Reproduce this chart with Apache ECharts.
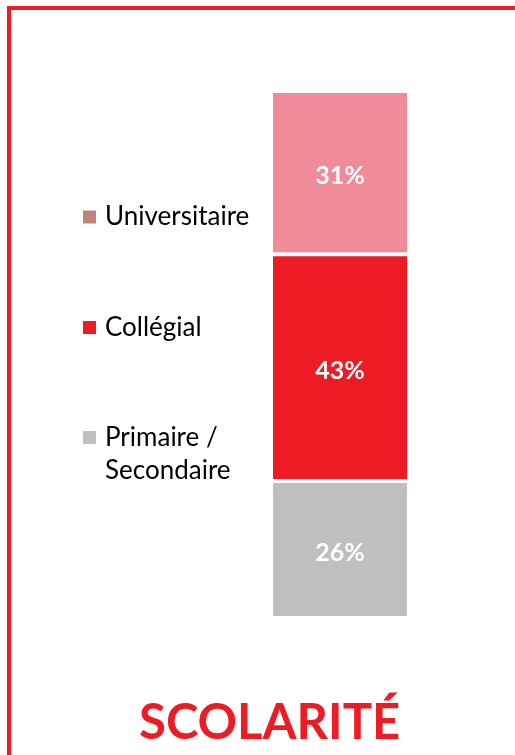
<!DOCTYPE html>
<html>
<head>
<meta charset="utf-8">
<script src="https://cdn.jsdelivr.net/npm/echarts@6/dist/echarts.min.js"></script>
<style>html,body{margin:0;padding:0;background:#fff;}#c{width:515px;height:755px;}</style>
</head>
<body>
<div id="c"></div>
<script>
const categories = ['Scolarité'];
const seriesNames = ['Primaire / Secondaire', 'Collégial', 'Universitaire'];
const primaireValues = [26];
const collegialValues = [43];
const universitaireValues = [31];
const titleText = 'SCOLARITÉ';

const chart = echarts.init(document.getElementById('c'), null, {renderer: 'canvas'});
const labelStyle = {show: true, position: 'inside', offset: [0, 3], formatter: '{c}%', color: '#fff', fontFamily: 'Lato', fontWeight: 'bold', fontSize: 25};
const itemBorder = {borderColor: '#fff', borderWidth: 2};
const legendText = {fontFamily: 'Lato', fontSize: 26, color: '#000', lineHeight: 33, padding: [0, 0, 0, 4]};

chart.setOption({
  animation: false,
  backgroundColor: '#fff',
  title: {
    text: titleText, left: 139, top: 699, padding: 0,
    textStyle: {fontFamily: 'Lato', fontWeight: 'bold', fontSize: 49, color: '#ED1C24'}
  },
  graphic: [{
    type: 'rect', shape: {x: 9, y: 8, width: 600, height: 800},
    style: {fill: 'none', stroke: '#ED1C24', lineWidth: 4}, silent: true
  }],
  legend: [{
    orient: 'vertical', left: 83, top: 200.5, padding: 0,
    itemWidth: 13, itemHeight: 13, itemGap: 77.5, icon: 'rect',
    data: [
      {name: seriesNames[2], itemStyle: {color: '#C0837F', borderWidth: 0}},
      {name: seriesNames[1], itemStyle: {color: '#ED1C24', borderWidth: 0}}
    ],
    textStyle: legendText
  }, {
    orient: 'vertical', left: 83, top: 388, padding: 0,
    itemWidth: 13, itemHeight: 13, icon: 'rect',
    data: [{name: seriesNames[0], itemStyle: {color: '#BFBFBF', borderWidth: 0}}],
    formatter: function (n) { return ' \n' + n.replace(' / ', ' /\n'); },
    textStyle: legendText
  }],
  grid: {left: 271, top: 91, width: 138, height: 527, containLabel: false},
  xAxis: {type: 'category', data: categories, show: false},
  yAxis: {type: 'value', min: 0, max: 100, show: false},
  series: [
    {name: seriesNames[0], type: 'bar', stack: 's', barWidth: '100%', data: primaireValues,
     itemStyle: Object.assign({color: '#BFBFBF'}, itemBorder), label: labelStyle},
    {name: seriesNames[1], type: 'bar', stack: 's', barWidth: '100%', data: collegialValues,
     itemStyle: Object.assign({color: '#ED1C24'}, itemBorder), label: labelStyle},
    {name: seriesNames[2], type: 'bar', stack: 's', barWidth: '100%', data: universitaireValues,
     itemStyle: Object.assign({color: '#F08B9A'}, itemBorder), label: labelStyle}
  ]
});
</script>
</body>
</html>
